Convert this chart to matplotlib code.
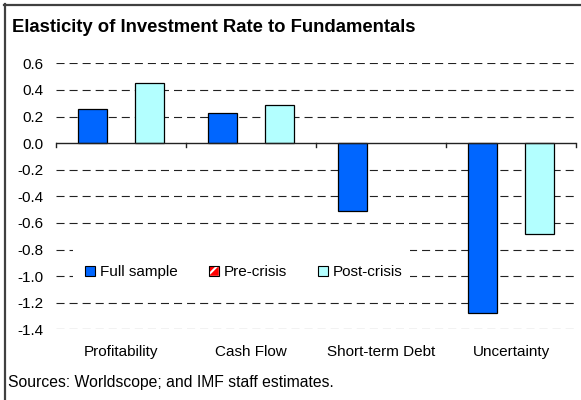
import numpy as np
import matplotlib
matplotlib.use("Agg")
import matplotlib.pyplot as plt
from matplotlib.patches import Rectangle
from matplotlib.lines import Line2D
from matplotlib.legend_handler import HandlerTuple

plt.rcParams['font.family'] = ['Liberation Sans', 'DejaVu Sans']
plt.rcParams['lines.scale_dashes'] = False
plt.rcParams['hatch.linewidth'] = 1.5

categories = ["Profitability", "Cash Flow", "Short-term Debt", "Uncertainty"]
full_sample = [0.26, 0.23, -0.51, -1.28]
pre_crisis = [np.nan, np.nan, np.nan, np.nan]
post_crisis = [0.45, 0.29, np.nan, -0.68]
yticks = [0.6, 0.4, 0.2, 0.0, -0.2, -0.4, -0.6, -0.8, -1.0, -1.2, -1.4]

title = "Elasticity of Investment Rate to Fundamentals"
source = "Sources: Worldscope; and IMF staff estimates."

blue = "#0066FF"
cyan = "#B3FFFF"
red = "#FF0000"

fig = plt.figure(figsize=(5.81, 4.00), dpi=100)
ax = fig.add_axes([56 / 581, 1 - 329.3 / 400, 520 / 581, (329.3 - 63.3) / 400])

x = np.arange(len(categories))
w = 0.223
ax.bar(x - w, full_sample, w, color=blue, edgecolor="black", linewidth=0.9, zorder=3)
ax.bar(x, pre_crisis, w, color=red, edgecolor="black", linewidth=0.9, zorder=3)
ax.bar(x + w, post_crisis, w, color=cyan, edgecolor="black", linewidth=0.9, zorder=3)

ax.set_xlim(-0.5, len(categories) - 0.5)
ax.set_ylim(-1.4, 0.6)

# dashed grid lines
for yv in yticks:
    if yv != 0:
        ax.axhline(yv, color="#222222", lw=0.8, dashes=(5.8, 3.6), zorder=1)
ax.axhline(0, color="#222222", lw=1.0, zorder=4)

for s in ax.spines.values():
    s.set_visible(False)

ax.set_yticks(yticks)
ax.set_yticklabels([f"{v:.1f}" for v in yticks])
ax.tick_params(axis="y", length=0, pad=9, labelsize=11)

# category boundary ticks hanging from the zero line
ax.set_xticks([])
for b in np.arange(-0.5, len(categories), 1.0):
    ax.plot([b, b], [0, -0.03], color="#222222", lw=1.0, zorder=4, clip_on=False)

for i, c in enumerate(categories):
    ax.text(i, -0.085, c, transform=ax.get_xaxis_transform(), ha="center",
            va="center", fontsize=11)

# white panel behind the legend, masking the grid
ax.add_patch(Rectangle((0.0327, 0.140), 0.648, 0.184, transform=ax.transAxes,
                       facecolor="white", edgecolor="none", zorder=2))

h_full = Rectangle((0, 0), 1, 1, facecolor=blue, edgecolor="black", lw=0.8)
h_pre_fill = Rectangle((0, 0), 1, 1, facecolor=red, edgecolor="white", hatch="//", lw=0.3)
h_pre_edge = Rectangle((0, 0), 1, 1, facecolor="none", edgecolor="black", lw=0.8)
h_post = Rectangle((0, 0), 1, 1, facecolor=cyan, edgecolor="black", lw=0.8)
leg = ax.legend([h_full, (h_pre_fill, h_pre_edge), h_post],
                ["Full sample", "Pre-crisis", "Post-crisis"],
                handler_map={tuple: HandlerTuple(ndivide=1, pad=0)},
                ncol=3, loc="center", bbox_to_anchor=(188 / 520, 1 - (272 - 63.3) / 266),
                fontsize=11, handlelength=0.65, handleheight=0.65,
                handletextpad=0.35, columnspacing=2.0,
                frameon=False, borderpad=0, borderaxespad=0)
leg.set_zorder(5)

fig.text(12 / 581, 1 - 28 / 400, title, fontsize=13.3, fontweight="bold",
         ha="left", va="center")
fig.text(8 / 581, 1 - 383 / 400, source, fontsize=11.3, ha="left", va="center")

# outer border lines
fig.add_artist(Line2D([4 / 581, 1], [1 - 5 / 400, 1 - 5 / 400], color="#404040", lw=1.6))
fig.add_artist(Line2D([5 / 581, 5 / 581], [0, 1 - 4 / 400], color="#404040", lw=1.6))

fig.savefig("out.png", dpi=100)
